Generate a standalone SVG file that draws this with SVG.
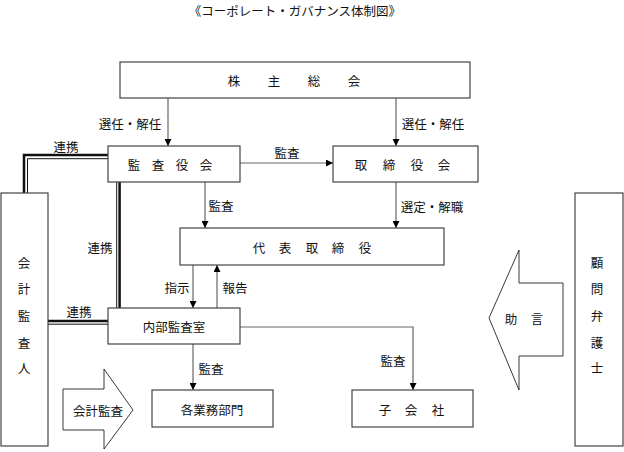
<svg xmlns="http://www.w3.org/2000/svg" width="624" height="452" viewBox="0 0 624 452">
<style>
text{font-family:"Noto Sans CJK JP","Noto Sans",sans-serif;font-size:12.5px;fill:#111;dominant-baseline:central}
.box{fill:#fff;stroke:#444;stroke-width:1.2}
.ln{fill:none;stroke:#666;stroke-width:1.2}
.thick{fill:none;stroke:#111;stroke-width:2.5}
.thin{fill:none;stroke:#111;stroke-width:1}
.mid{text-anchor:middle}
.shape{fill:#fff;stroke:#222;stroke-width:0.9}
</style>
<defs>
<marker id="ah" viewBox="0 0 10 10" refX="10" refY="5" markerWidth="7" markerHeight="7" markerUnits="userSpaceOnUse" orient="auto"><path d="M0,0 L10,5 L0,10 z" fill="#000"/></marker>
</defs>
<rect width="624" height="452" fill="#fff"/>
<text id="title" x="295" y="10" class="mid" font-size="12">《コーポレート・ガバナンス体制図》</text>

<g id="connectors">
<line class="ln" x1="168" y1="98" x2="168" y2="146" marker-end="url(#ah)"/>
<line class="ln" x1="396" y1="98" x2="396" y2="146" marker-end="url(#ah)"/>
<line class="ln" x1="240" y1="163" x2="333" y2="163" marker-end="url(#ah)"/>
<line class="ln" x1="205" y1="182" x2="205" y2="228" marker-end="url(#ah)"/>
<line class="ln" x1="396" y1="182" x2="396" y2="228" marker-end="url(#ah)"/>
<line class="ln" x1="193" y1="265" x2="193" y2="308" marker-end="url(#ah)"/>
<line class="ln" x1="217" y1="308" x2="217" y2="265" marker-end="url(#ah)"/>
<line class="ln" x1="193" y1="344" x2="193" y2="390" marker-end="url(#ah)"/>
<polyline class="ln" points="240,327 413,327 413,390" marker-end="url(#ah)"/>
<polyline class="thick" points="108,155 24,155 24,193"/>
<polyline class="thin" points="108,158.7 27.5,158.7 27.5,193"/>
<line class="thin" x1="116.7" y1="182" x2="116.7" y2="308"/>
<line class="thick" x1="119.6" y1="182" x2="119.6" y2="308"/>
<line class="thick" x1="48" y1="321" x2="108" y2="321"/>
<line class="thin" x1="48" y1="324.2" x2="108" y2="324.2"/>
<text x="130" y="123" class="mid">選任・解任</text>
<text x="433" y="123" class="mid">選任・解任</text>
<text x="66" y="146" class="mid">連携</text>
<text x="287" y="152" class="mid">監査</text>
<text x="221" y="205" class="mid">監査</text>
<text x="432" y="206" class="mid">選定・解職</text>
<text x="100" y="247" class="mid">連携</text>
<text x="177" y="287" class="mid">指示</text>
<text x="235" y="287" class="mid">報告</text>
<text x="79" y="311" class="mid">連携</text>
<text x="211" y="368" class="mid">監査</text>
<text x="393" y="360" class="mid">監査</text>
</g>

<g id="kabunushi">
<rect class="box" x="120" y="62" width="350" height="36"/>
<text x="234 274 314 354" y="80" class="mid">株主総会</text>
</g>
<g id="kansayakukai">
<rect class="box" x="108" y="146" width="132" height="36"/>
<text x="134 158 182 206" y="164" class="mid">監査役会</text>
</g>
<g id="torishimariyakukai">
<rect class="box" x="333" y="146" width="145" height="36"/>
<text x="361 389 417 444" y="164" class="mid">取締役会</text>
</g>
<g id="daihyo">
<rect class="box" x="180" y="228" width="264" height="37"/>
<text x="259 285 312 338 365" y="247" class="mid">代表取締役</text>
</g>
<g id="naibu">
<rect class="box" x="108" y="308" width="132" height="36"/>
<text x="174" y="326" class="mid">内部監査室</text>
</g>
<g id="gyomu">
<rect class="box" x="152" y="390" width="121" height="37"/>
<text x="212" y="409" class="mid">各業務部門</text>
</g>
<g id="kogaisha">
<rect class="box" x="352" y="390" width="121" height="37"/>
<text x="385 411 438" y="409" class="mid">子会社</text>
</g>
<g id="kaikei">
<rect class="box" x="1" y="193" width="47" height="253"/>
<text x="24 24 24 24 24" y="262 288 315 342 367" class="mid">会計監査人</text>
</g>
<g id="bengoshi">
<rect class="box" x="575" y="193" width="48" height="253"/>
<text x="597 597 597 597 597" y="262 288 315 342 367" class="mid">顧問弁護士</text>
</g>
<g id="kaikeikansa">
<path class="shape" d="M63,389 L104,389 L104,369 L133,410 L104,449 L104,430 L63,430 Z"/>
<text x="98" y="410" class="mid">会計監査</text>
</g>
<g id="jogen">
<path class="shape" d="M563,283 L519,283 L519,250 L489,318 L519,390 L519,356 L563,356 Z"/>
<text x="511 537" y="318" class="mid">助言</text>
</g>
</svg>
